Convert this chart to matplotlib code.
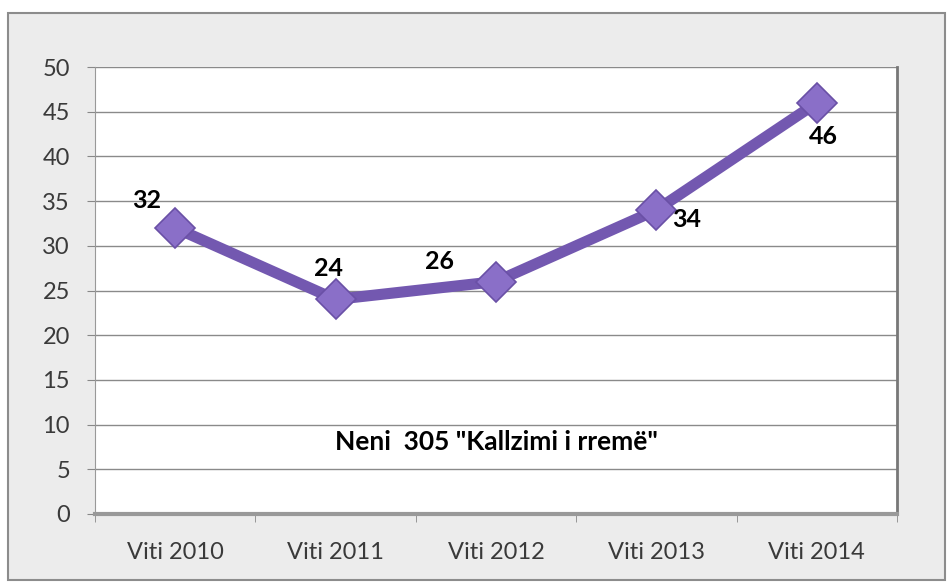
import matplotlib.pyplot as plt
from matplotlib.patches import FancyBboxPatch

plt.rcParams['font.family'] = ['Lato', 'DejaVu Sans']

# Data
years = ["Viti 2010", "Viti 2011", "Viti 2012", "Viti 2013", "Viti 2014"]
cases = [32, 24, 26, 34, 46]
# label offsets in pixels (dx, dy) relative to each point
label_offsets = [(-29, 27), (-7, 31), (-57, 20), (30, -9), (7, -34)]
title_text = 'Neni  305 "Kallzimi i rremë"'

fig = plt.figure(figsize=(9.52, 5.86), dpi=100)
fig.patch.set_facecolor('white')

# outer chart frame (light grey box)
frame = FancyBboxPatch((8 / 952, 6 / 586), 937 / 952, 567 / 586,
                       boxstyle='square,pad=0', transform=fig.transFigure,
                       facecolor='#ececec', edgecolor='#8c8c8c', linewidth=1.5,
                       zorder=-10)
fig.patches.append(frame)

ax = fig.add_axes([95 / 952, 72 / 586, 802 / 952, 447 / 586])
ax.set_facecolor('white')

x = list(range(len(years)))
ax.plot(x, cases, color='#7358b0', linewidth=8, solid_capstyle='round',
        marker='D', markersize=20, markerfacecolor='#8a6fc8',
        markeredgecolor='#6a50a6', markeredgewidth=1.2, zorder=3)

for xi, v, (dx, dy) in zip(x, cases, label_offsets):
    ax.annotate(str(v), (xi, v), xytext=(dx, dy), textcoords='offset pixels',
                ha='center', va='center', fontsize=18, fontweight='bold',
                color='black', zorder=4)

ax.text(2, 8, title_text, ha='center', va='center', fontsize=19,
        fontweight='bold', color='black')

ax.set_xlim(-0.5, len(years) - 0.5)
ax.set_ylim(0, 50)
ax.set_yticks(range(0, 51, 5))
ax.set_xticks(x)
ax.set_xticklabels(years)
ax.set_xticks([i - 0.5 for i in range(len(years) + 1)], minor=True)
ax.tick_params(axis='x', which='major', length=0, pad=20, labelsize=17,
               colors='#3a3a3a')
ax.tick_params(axis='x', which='minor', length=6, color='#888888')
ax.tick_params(axis='y', length=6, color='#888888', labelsize=17,
               colors='#3a3a3a', pad=12)

ax.grid(axis='y', color='#8a8a8a', linewidth=1)
ax.set_axisbelow(True)
ax.spines['top'].set_visible(False)
ax.spines['left'].set_color('#999999')
ax.spines['bottom'].set_color('#999999')
ax.spines['bottom'].set_linewidth(3)
ax.spines['right'].set_color('#777777')
ax.spines['right'].set_linewidth(2)

fig.savefig('out.png', dpi=100, facecolor=fig.get_facecolor())
